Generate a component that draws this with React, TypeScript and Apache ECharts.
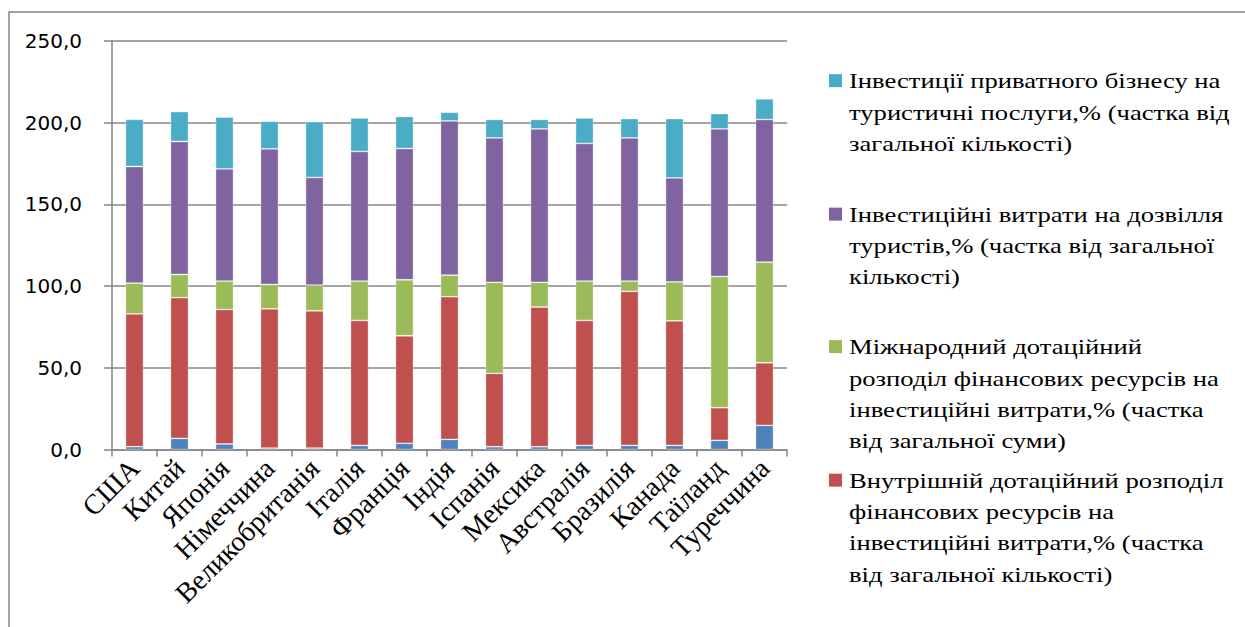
import React, { useEffect, useRef } from "react";
import * as echarts from "echarts";

const categories = ["США", "Китай", "Японія", "Німеччина", "Великобританія", "Італія", "Франція", "Індія", "Іспанія", "Мексика", "Австралія", "Бразилія", "Канада", "Таїланд", "Туреччина"];

const seriesBlue = [1.7, 6.8, 3.4, 0.9, 0.9, 2.5, 3.8, 6.2, 1.7, 1.7, 2.5, 2.5, 2.5, 5.6, 14.8];
const seriesRed = [81.3, 86.1, 82.3, 85.2, 84.0, 76.5, 65.8, 87.3, 44.9, 85.5, 76.5, 94.3, 76.3, 20.0, 38.3];
const seriesGreen = [18.8, 14.2, 17.4, 14.9, 15.7, 24.1, 34.3, 13.2, 55.7, 15.1, 24.1, 6.3, 23.8, 80.3, 61.6];
const seriesPurple = [71.4, 81.4, 68.7, 83.0, 65.9, 79.3, 80.3, 94.4, 88.4, 93.9, 84.2, 87.6, 63.6, 90.3, 87.3];
const seriesCyan = [28.8, 18.3, 31.6, 16.9, 34.2, 20.5, 19.6, 5.3, 11.3, 5.8, 15.6, 11.8, 36.3, 9.4, 12.6];

const yTicks = [0, 50, 100, 150, 200, 250];

const nameBlue = "Ряд 1";
const nameRed = "Внутрішній дотаційний розподіл фінансових ресурсів на інвестиційні витрати,% (частка від загальної кількості)";
const nameGreen = "Міжнародний дотаційний розподіл фінансових ресурсів на інвестиційні витрати,% (частка від загальної суми)";
const namePurple = "Інвестиційні витрати на дозвілля туристів,% (частка від загальної кількості)";
const nameCyan = "Інвестиції приватного бізнесу на туристичні послуги,% (частка від загальної кількості)";

const legendLines = [
  ["Інвестиції приватного бізнесу на", "туристичні послуги,% (частка від", "загальної кількості)"],
  ["Інвестиційні витрати на дозвілля", "туристів,% (частка від загальної", "кількості)"],
  ["Міжнародний дотаційний", "розподіл фінансових ресурсів на", "інвестиційні витрати,% (частка", "від загальної суми)"],
  ["Внутрішній дотаційний розподіл", "фінансових ресурсів на", "інвестиційні витрати,% (частка", "від загальної кількості)"],
];

const colors = { blue: "#4F81BD", red: "#C0504D", green: "#9BBB59", purple: "#8064A2", cyan: "#4BACC6" };

export default function App() {
  const ref = useRef<HTMLDivElement>(null);
  useEffect(() => {
    const chart = echarts.init(ref.current!, null, { renderer: "svg" });
    const mk = (name: string, data: number[], color: string) => ({
      name,
      type: "bar",
      stack: "total",
      data,
      barWidth: 18,
      itemStyle: { color, borderColor: "rgba(255,255,255,0.45)", borderWidth: 0.8 },
    });
    const legendColors = [colors.cyan, colors.purple, colors.green, colors.red];
    const legendY = [65, 198.5, 331, 464.5];
    const lh = 31.3;
    const graphics: any[] = [
      {
        type: "rect",
        shape: { x: 9, y: 12, width: 1260, height: 640 },
        style: { fill: "none", stroke: "#868686", lineWidth: 1.5 },
        silent: true,
      },
    ];
    legendLines.forEach((lines, i) => {
      graphics.push({
        type: "rect",
        shape: { x: 829, y: legendY[i] + lh / 2 - 6.5, width: 13, height: 13 },
        style: { fill: legendColors[i] },
      });
      graphics.push({
        type: "text",
        x: 849,
        y: legendY[i],
        scaleX: 1.21,
        style: {
          text: lines.join("\n"),
          x: 0,
          y: 0,
          fontFamily: "Liberation Serif",
          fontSize: 22,
          lineHeight: lh,
          fill: "#000",
          verticalAlign: "top",
          align: "left",
        },
      });
    });
    chart.setOption({
      animation: false,
      grid: { left: 112, right: 458, top: 41, bottom: 177.5, containLabel: false },
      xAxis: {
        type: "category",
        data: categories,
        axisLine: { lineStyle: { color: "#868686", width: 1.5 } },
        axisTick: { show: true, length: 7, lineStyle: { color: "#868686", width: 1.5 } },
        axisLabel: {
          rotate: 45,
          interval: 0,
          margin: 14,
          fontFamily: "Liberation Serif",
          fontSize: 28,
          color: "#000",
        },
      },
      yAxis: {
        type: "value",
        min: 0,
        max: 250,
        interval: 50,
        axisLine: { show: true, lineStyle: { color: "#868686", width: 1.5 } },
        axisTick: { show: true, length: 8, lineStyle: { color: "#868686", width: 1.5 } },
        splitLine: { lineStyle: { color: "#868686", width: 1.5 } },
        axisLabel: {
          margin: 30,
          fontFamily: "DejaVu Sans",
          fontSize: 20,
          color: "#000",
          formatter: (v: number) => (yTicks.includes(v) ? v.toFixed(1).replace(".", ",") : ""),
        },
      },
      series: [
        mk(nameBlue, seriesBlue, colors.blue),
        mk(nameRed, seriesRed, colors.red),
        mk(nameGreen, seriesGreen, colors.green),
        mk(namePurple, seriesPurple, colors.purple),
        mk(nameCyan, seriesCyan, colors.cyan),
      ],
      graphic: graphics,
    });
    return () => chart.dispose();
  }, []);
  return (
    <div
      ref={ref}
      style={{ position: "fixed", left: 0, top: 0, width: 1245, height: 627, background: "#fff" }}
    />
  );
}
